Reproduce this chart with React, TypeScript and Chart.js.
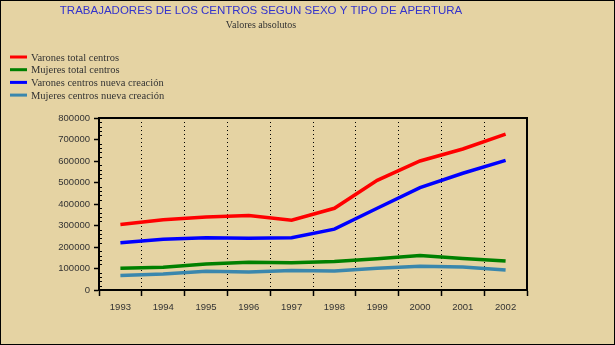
import React, { useEffect, useRef } from 'react';
import { Chart, registerables } from 'chart.js';

Chart.register(...registerables);

const chartTitle = 'TRABAJADORES DE LOS CENTROS SEGUN SEXO Y TIPO DE APERTURA';
const chartSubtitle = 'Valores absolutos';

const years = ['1993', '1994', '1995', '1996', '1997', '1998', '1999', '2000', '2001', '2002'];

const seriesLabels = [
  'Varones total centros',
  'Mujeres total centros',
  'Varones centros nueva creación',
  'Mujeres centros nueva creación',
];

const varonesTotal = [305000, 327000, 340000, 347000, 325000, 380000, 510000, 600000, 656000, 725000];
const mujeresTotal = [101000, 106000, 121000, 129000, 127000, 132000, 145000, 161000, 147000, 135000];
const varonesNueva = [220000, 236000, 243000, 241000, 243000, 283000, 380000, 476000, 543000, 603000];
const mujeresNueva = [68000, 74000, 87000, 84000, 91000, 88000, 101000, 111000, 107000, 93000];

const yMin = 0;
const yMax = 800000;
const yStep = 100000;
const yMinorStep = 20000;

const seriesColors = ['#FF0000', '#008000', '#0000FF', '#3A87AD'];

export default function App() {
  const ref = useRef<HTMLCanvasElement>(null);

  useEffect(() => {
    document.body.style.margin = '0';
    const canvas = ref.current;
    if (!canvas) return;
    const series = [varonesTotal, mujeresTotal, varonesNueva, mujeresNueva];

    const decor = {
      id: 'decor',
      beforeDraw(chart: any) {
        const ctx = chart.ctx;
        ctx.save();
        ctx.fillStyle = '#E5D3A3';
        ctx.fillRect(0, 0, chart.width, chart.height);
        ctx.restore();
      },
      afterDraw(chart: any) {
        const ctx = chart.ctx;
        const area = chart.chartArea;
        const ys = chart.scales.y;
        ctx.save();
        // plot frame top/right
        ctx.strokeStyle = '#000';
        ctx.lineWidth = 2;
        ctx.beginPath();
        ctx.moveTo(area.left, area.top);
        ctx.lineTo(area.right, area.top);
        ctx.lineTo(area.right, area.bottom);
        ctx.stroke();
        // minor y ticks
        ctx.lineWidth = 1;
        for (let v = yMin + yMinorStep; v < yMax; v += yMinorStep) {
          if (v % yStep === 0) continue;
          const py = Math.round(ys.getPixelForValue(v)) + 0.5;
          ctx.beginPath();
          ctx.moveTo(area.left, py);
          ctx.lineTo(area.left + 3, py);
          ctx.stroke();
        }
        // titles
        ctx.textAlign = 'center';
        ctx.textBaseline = 'middle';
        ctx.fillStyle = '#3333CC';
        ctx.font = '11.5px "Liberation Sans"';
        ctx.fillText(chartTitle, 261, 11);
        ctx.fillStyle = '#333333';
        ctx.font = '10px "Liberation Serif"';
        ctx.fillText(chartSubtitle, 261, 25.5);
        // legend
        ctx.textAlign = 'left';
        ctx.font = '10.5px "Liberation Serif"';
        chart.data.datasets.forEach((ds: any, i: number) => {
          const y = 57 + i * 12.7;
          ctx.strokeStyle = ds.borderColor;
          ctx.lineWidth = 3;
          ctx.beginPath();
          ctx.moveTo(10, y);
          ctx.lineTo(27, y);
          ctx.stroke();
          ctx.fillStyle = '#333333';
          ctx.fillText(ds.label, 31, y + 1);
        });
        // outer border
        ctx.strokeStyle = '#000';
        ctx.lineWidth = 1;
        ctx.strokeRect(0.5, 0.5, chart.width - 1, chart.height - 1);
        ctx.restore();
      },
    };

    const chart = new Chart(canvas, {
      type: 'line',
      data: {
        labels: years,
        datasets: series.map((d, i) => ({
          label: seriesLabels[i],
          data: d,
          borderColor: seriesColors[i],
          backgroundColor: seriesColors[i],
          borderWidth: 3.5,
          pointRadius: 0,
          tension: 0,
          fill: false,
        })),
      },
      options: {
        responsive: false,
        animation: false,
        devicePixelRatio: 1,
        layout: { padding: { left: 0, right: 88, top: 118, bottom: 0 } },
        plugins: {
          legend: { display: false },
          title: { display: false },
          tooltip: { enabled: false },
        },
        scales: {
          x: {
            type: 'category',
            offset: true,
            grid: {
              offset: true,
              color: '#000',
              lineWidth: 1,
              drawOnChartArea: true,
              tickLength: 6,
              tickColor: '#000',
              tickWidth: 1.5,
              tickBorderDash: [],
            },
            border: { color: '#000', width: 2, dash: [1, 3] },
            ticks: {
              color: '#333333',
              font: { family: 'Liberation Sans', size: 9.5 },
              padding: 6,
              maxRotation: 0,
              autoSkip: false,
            },
            afterFit: (s: any) => {
              s.height = 55;
            },
          },
          y: {
            min: yMin,
            max: yMax,
            ticks: {
              stepSize: yStep,
              callback: (v: any) => String(v),
              color: '#333333',
              font: { family: 'Liberation Sans', size: 9.5 },
              padding: 4,
            },
            grid: {
              drawOnChartArea: false,
              tickLength: 5,
              tickColor: '#000',
              tickWidth: 1.5,
            },
            border: { color: '#000', width: 2 },
            afterFit: (s: any) => {
              s.width = 99;
            },
          },
        },
      },
      plugins: [decor],
    });

    return () => chart.destroy();
  }, []);

  return <canvas ref={ref} width={615} height={345} style={{ display: 'block' }} />;
}
